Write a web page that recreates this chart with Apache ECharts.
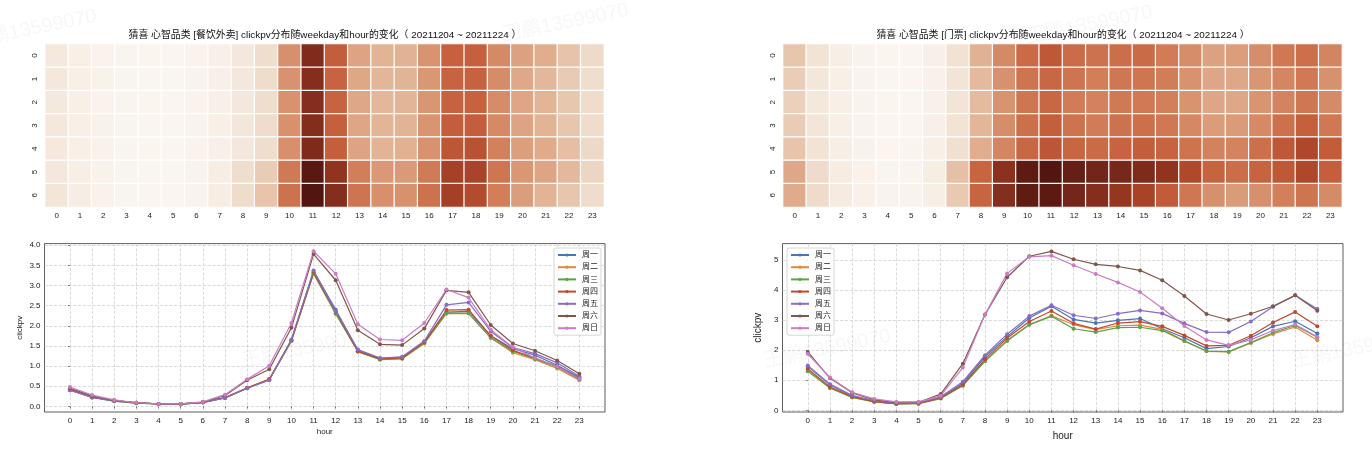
<!DOCTYPE html>
<html>
<head>
<meta charset="utf-8">
<style>html,body{margin:0;background:#fff}#chart{width:1372px;height:464px}</style>
<script src="https://cdn.jsdelivr.net/npm/echarts@6/dist/echarts.min.js"></script>
</head>
<body>
<div id="chart"></div>
<script>
const hours = ["0","1","2","3","4","5","6","7","8","9","10","11","12","13","14","15","16","17","18","19","20","21","22","23"];
const days = ["0","1","2","3","4","5","6"];
const weekdays = ["周一","周二","周三","周四","周五","周六","周日"];
const colors = ["#4a74b4","#e08a3c","#5da24a","#c0492f","#8a6cc4","#80574b","#cc7bc4"];
const heatColors = ["#fbf5f0","#f4e8dc","#ecd6c3","#e2b496","#d99673","#d07a55","#c6613e","#b34a2d","#94351f","#78281b","#52150f"];

const foodTicks = [0,0.5,1,1.5,2,2.5,3,3.5,4];
const ticketTicks = [0,1,2,3,4,5];

// 餐饮外卖
const foodMon = [.40,.22,.13,.08,.06,.05,.10,.21,.45,.66,1.65,3.36,2.40,1.40,1.19,1.22,1.60,2.34,2.36,1.75,1.43,1.27,1.02,.72];
const foodTue = [.42,.23,.14,.09,.06,.06,.10,.21,.45,.67,1.62,3.30,2.30,1.36,1.17,1.19,1.56,2.30,2.31,1.70,1.33,1.16,.94,.65];
const foodWed = [.41,.22,.13,.08,.06,.05,.10,.21,.45,.66,1.62,3.30,2.30,1.36,1.16,1.18,1.57,2.32,2.31,1.70,1.37,1.18,.98,.67];
const foodThu = [.42,.23,.14,.09,.06,.06,.10,.22,.46,.68,1.64,3.32,2.35,1.37,1.18,1.20,1.59,2.39,2.40,1.75,1.39,1.20,.99,.69];
const foodFri = [.40,.23,.14,.09,.06,.06,.10,.21,.45,.65,1.66,3.37,2.37,1.41,1.20,1.23,1.62,2.52,2.58,1.86,1.46,1.31,1.08,.75];
const foodSat = [.45,.26,.15,.09,.06,.06,.10,.27,.65,.92,1.95,3.78,3.13,1.89,1.54,1.52,1.93,2.88,2.83,2.02,1.56,1.38,1.14,.81];
const foodSun = [.48,.28,.16,.09,.06,.06,.11,.29,.67,1.01,2.07,3.85,3.29,2.04,1.66,1.64,2.07,2.90,2.70,1.90,1.47,1.20,.99,.68];

// 门票
const ticketMon = [1.46,.85,.47,.29,.22,.23,.42,.90,1.78,2.45,3.07,3.46,3.02,2.90,2.99,3.05,2.71,2.41,2.05,2.12,2.41,2.79,2.96,2.55];
const ticketTue = [1.36,.75,.43,.29,.22,.23,.40,.83,1.65,2.33,2.85,3.14,2.85,2.68,2.81,2.83,2.69,2.31,1.96,1.94,2.24,2.54,2.77,2.33];
const ticketWed = [1.30,.74,.43,.28,.21,.22,.39,.82,1.63,2.30,2.84,3.13,2.71,2.60,2.75,2.76,2.65,2.30,1.97,1.95,2.25,2.58,2.82,2.43];
const ticketThu = [1.38,.78,.45,.29,.22,.23,.41,.85,1.70,2.40,2.95,3.30,2.89,2.70,2.90,2.95,2.79,2.49,2.14,2.16,2.48,2.92,3.27,2.79];
const ticketFri = [1.49,.87,.50,.32,.24,.25,.45,.95,1.83,2.53,3.13,3.49,3.16,3.05,3.21,3.32,3.22,2.89,2.60,2.59,2.95,3.44,3.82,3.37];
const ticketSat = [1.94,1.07,.58,.35,.26,.27,.54,1.55,3.18,4.42,5.12,5.28,5.02,4.85,4.78,4.65,4.32,3.80,3.20,3.00,3.21,3.46,3.82,3.31];
const ticketSun = [1.88,1.09,.60,.38,.28,.28,.48,1.42,3.18,4.55,5.10,5.14,4.82,4.53,4.25,3.93,3.39,2.80,2.34,2.16,2.34,2.65,2.85,2.44];

const foodSeries = [foodMon,foodTue,foodWed,foodThu,foodFri,foodSat,foodSun];
const ticketSeries = [ticketMon,ticketTue,ticketWed,ticketThu,ticketFri,ticketSat,ticketSun];

const FONT = '"Liberation Sans","Noto Sans CJK SC",sans-serif';
const TXT = "#222";

function heatCells(rows) {
  const out = [];
  rows.forEach((row, d) => row.forEach((v, h) => out.push([h, d, v])));
  return out;
}

function heatAxes(i) {
  return {
    x: {
      gridIndex: i, type: "category", data: hours,
      axisLine: { show: false },
      axisTick: { alignWithLabel: true, length: 3, lineStyle: { color: "#222", width: 1 } },
      axisLabel: { fontSize: 8, color: TXT, fontFamily: FONT, margin: 5, interval: 0 },
      splitLine: { show: false },
    },
    y: {
      gridIndex: i, type: "category", data: days, inverse: true,
      axisLine: { show: false },
      axisTick: { alignWithLabel: true, length: 3, lineStyle: { color: "#222", width: 1 } },
      axisLabel: { fontSize: 8, color: TXT, fontFamily: FONT, margin: 6, rotate: 90, interval: 0 },
      splitLine: { show: false },
    },
  };
}

function lineAxes(i, ticks, yMin, yMax, xMin, xMax, nameSize, yGap, xGap, fmt) {
  const dash = { show: true, lineStyle: { color: "#d2d2d2", type: "dashed", width: 0.8 } };
  return {
    x: {
      gridIndex: i, type: "value", min: xMin, max: xMax,
      name: "hour", nameLocation: "middle", nameGap: xGap,
      nameTextStyle: { fontSize: nameSize, color: TXT, fontFamily: FONT },
      axisLine: { show: false },
      axisTick: { show: true, customValues: hours.map(Number), length: 2, lineStyle: { color: "#333", width: 0.6 } },
      axisLabel: { customValues: hours.map(Number), fontSize: 8, color: TXT, fontFamily: FONT, margin: 5 },
      splitLine: dash,
    },
    y: {
      gridIndex: i, type: "value", min: yMin, max: yMax,
      name: "clickpv", nameLocation: "middle", nameGap: yGap,
      nameTextStyle: { fontSize: nameSize, color: TXT, fontFamily: FONT },
      axisLine: { show: false },
      axisTick: { show: true, customValues: ticks, length: 2, lineStyle: { color: "#333", width: 0.6 } },
      axisLabel: { customValues: ticks, formatter: fmt, fontSize: 8, color: TXT, fontFamily: FONT, margin: 4 },
      splitLine: dash,
    },
  };
}

function lineSeries(rows, i) {
  return rows.map((row, k) => ({
    name: weekdays[k], type: "line", xAxisIndex: i, yAxisIndex: i,
    data: row.map((v, h) => [h, v]),
    symbol: "circle", symbolSize: 4, silent: true,
    lineStyle: { width: 1.2, color: colors[k] },
    itemStyle: { color: colors[k] },
  }));
}

function heatSeries(rows, i) {
  return {
    type: "heatmap", xAxisIndex: i, yAxisIndex: i, data: heatCells(rows),
    itemStyle: { borderColor: "#fff", borderWidth: 1.2 },
    silent: true,
  };
}

function legendAt(left, top) {
  return {
    orient: "vertical", left, top, data: weekdays, selectedMode: false,
    itemWidth: 18, itemHeight: 4, itemGap: 4.2,
    padding: [3, 3, 3, 3],
    backgroundColor: "rgba(255,255,255,0.85)", borderColor: "#ccc", borderWidth: 0.8, borderRadius: 2,
    textStyle: { fontSize: 8, color: TXT, fontFamily: FONT, padding: [0, 0, 0, 1] },
  };
}

function titleAt(text, left) {
  return {
    text, left, top: 30.5, textAlign: "center", padding: 0,
    textStyle: { fontSize: 9.9, fontWeight: "normal", color: "#111", fontFamily: FONT },
  };
}

// 水印
const marks = [[-32, 32], [500, 26], [1024, 28], [240, 352], [762, 352], [1290, 352]];
const MARK = "王鹏13599070";

const h1 = heatAxes(0), h2 = heatAxes(1);
const l1 = lineAxes(2, foodTicks, -0.14, 4.04, -1.15, 24.16, 8, 21, 16, (v) => v.toFixed(1));
const l2 = lineAxes(3, ticketTicks, -0.056, 5.54, -1.14, 24.16, 10, 19, 19, (v) => String(v));

const chart = echarts.init(document.getElementById("chart"));
chart.setOption({
  animation: false,
  backgroundColor: "#fff",
  title: [
    titleAt("猜喜 心智品类 [餐饮外卖] clickpv分布随weekday和hour的变化（ 20211204 ~ 20211224 ）", 325),
    titleAt("猜喜 心智品类 [门票] clickpv分布随weekday和hour的变化（ 20211204 ~ 20211224 ）", 1063),
  ],
  grid: [
    { left: 45, top: 44, width: 559, height: 163 },
    { left: 783, top: 44, width: 559, height: 163 },
    { left: 44.5, top: 243.6, width: 560.5, height: 168.4, show: true, borderColor: "#333", borderWidth: 0.8 },
    { left: 782.5, top: 243.6, width: 560.5, height: 168.4, show: true, borderColor: "#333", borderWidth: 0.8 },
  ],
  xAxis: [h1.x, h2.x, l1.x, l2.x],
  yAxis: [h1.y, h2.y, l1.y, l2.y],
  visualMap: [
    { show: false, seriesIndex: 0, min: 0.05, max: 3.85, inRange: { color: heatColors } },
    { show: false, seriesIndex: 1, min: 0.21, max: 5.28, inRange: { color: heatColors } },
  ],
  legend: [legendAt(554, 248), legendAt(787, 248)],
  series: [
    heatSeries(foodSeries, 0),
    heatSeries(ticketSeries, 1),
    ...lineSeries(foodSeries, 2),
    ...lineSeries(ticketSeries, 3),
  ],
  graphic: marks.map(([x, y]) => ({
    type: "text", x, y, rotation: 0.2, silent: true, z: 100,
    style: { text: MARK, fontSize: 20, fill: "rgba(120,120,120,0.06)", fontFamily: FONT },
  })),
});
</script>
</body>
</html>
